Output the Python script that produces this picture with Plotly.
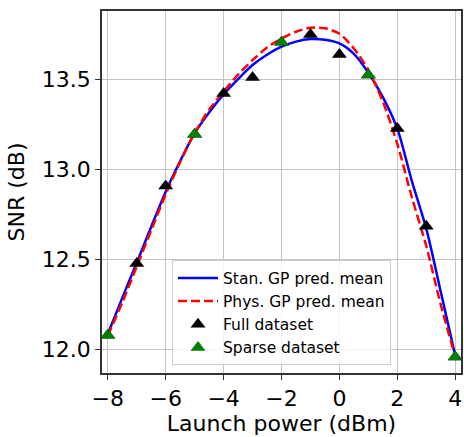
import plotly.graph_objects as go

# Launch power grid for the GP predictive means (dBm)
power_grid = [-8.0, -7.5, -7.0, -6.5, -6.0, -5.5, -5.0, -4.5, -4.0, -3.5, -3.0, -2.5,
              -2.0, -1.5, -1.0, -0.5, 0.0, 0.5, 1.0, 1.5, 2.0, 2.5, 3.0, 3.5, 4.0]

# Standard GP predictive mean (dB)
snr_stan_gp = [12.085, 12.285, 12.48, 12.68, 12.875, 13.045, 13.20, 13.315, 13.415, 13.50,
               13.578, 13.635, 13.68, 13.708, 13.722, 13.718, 13.698, 13.64, 13.535, 13.40,
               13.225, 12.935, 12.67, 12.32, 11.965]

# Physics-informed GP predictive mean (dB)
snr_phys_gp = [12.075, 12.26, 12.46, 12.66, 12.86, 13.04, 13.20, 13.33, 13.43, 13.525,
               13.605, 13.675, 13.725, 13.763, 13.785, 13.782, 13.752, 13.67, 13.55, 13.375,
               13.14, 12.845, 12.573, 12.248, 11.96]

# Measured SNR, full dataset
power_full = [-8, -7, -6, -5, -4, -3, -2, -1, 0, 1, 2, 3, 4]
snr_full = [12.078, 12.476, 12.906, 13.194, 13.420, 13.509, 13.704, 13.748, 13.637,
            13.522, 13.226, 12.683, 11.957]

# Sparse subset used for training
power_sparse = [-8, -5, -2, 1, 4]
snr_sparse = [12.078, 13.194, 13.704, 13.522, 11.957]

x_ticks = [-8, -6, -4, -2, 0, 2, 4]
y_ticks = [12.0, 12.5, 13.0, 13.5]

FONT = "DejaVu Sans"

fig = go.Figure()
fig.add_trace(go.Scatter(
    x=power_grid, y=snr_stan_gp, mode="lines", name="Stan. GP pred. mean",
    line=dict(color="#0000ff", width=2.5, shape="spline", smoothing=0.8),
))
fig.add_trace(go.Scatter(
    x=power_grid, y=snr_phys_gp, mode="lines", name="Phys. GP pred. mean",
    line=dict(color="#ff0000", width=2.5, dash="9px,4px", shape="spline", smoothing=0.8),
))
fig.add_trace(go.Scatter(
    x=power_full, y=snr_full, mode="markers", name="Full dataset",
    marker=dict(symbol="triangle-up", size=13, color="black"),
))
fig.add_trace(go.Scatter(
    x=power_sparse, y=snr_sparse, mode="markers", name="Sparse dataset",
    marker=dict(symbol="triangle-up", size=13, color="#008000"),
))

axis_common = dict(
    showline=True, mirror=True, linecolor="#333333", linewidth=1.5,
    ticks="outside", ticklen=5, tickwidth=1.3, tickcolor="#333333",
    showgrid=True, gridcolor="#c4c4c4", gridwidth=1.3,
    zeroline=False,
    tickfont=dict(family=FONT, size=22, color="black"),
)

fig.update_xaxes(
    range=[-8.2, 4.2], tickvals=x_ticks,
    title=dict(text="Launch power (dBm)", font=dict(family=FONT, size=22, color="black"), standoff=5),
    **axis_common,
)
fig.update_yaxes(
    range=[11.868, 13.878], tickvals=y_ticks, tickformat=".1f",
    title=dict(text="SNR (dB)", font=dict(family=FONT, size=22, color="black"), standoff=11),
    **axis_common,
)

fig.update_layout(
    width=464, height=437,
    margin=dict(l=102, r=1, t=11, b=64),
    plot_bgcolor="white", paper_bgcolor="white",
    font=dict(family=FONT, color="black"),
    showlegend=True,
    legend=dict(
        x=0.195, y=0.021, xanchor="left", yanchor="bottom",
        bgcolor="rgba(255,255,255,0.8)", bordercolor="#cccccc", borderwidth=1,
        font=dict(family=FONT, size=15.5, color="black"),
        itemwidth=40,
    ),
)

fig.write_html("out.html")
